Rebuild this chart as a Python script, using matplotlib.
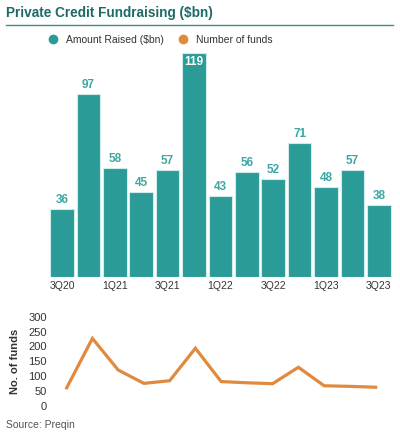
import numpy as np
import matplotlib.pyplot as plt
from matplotlib.lines import Line2D

plt.rcParams['font.family'] = ['Liberation Sans', 'DejaVu Sans']

# Datos
quarters = ["3Q20", "4Q20", "1Q21", "2Q21", "3Q21", "4Q21", "1Q22",
            "2Q22", "3Q22", "4Q22", "1Q23", "2Q23", "3Q23"]
amount_raised = [36, 97, 58, 45, 57, 119, 43, 56, 52, 71, 48, 57, 38]
num_funds = [61, 227, 121, 76, 85, 194, 82, 78, 75, 130, 68, 66, 63]
funds_ticks = [0, 50, 100, 150, 200, 250, 300]

teal = "#2a9b97"
teal_text = "#3ba7a2"
title_col = "#1d6b67"
orange = "#df8a3e"
grey = "#333333"

fig = plt.figure(figsize=(4.0, 4.32), dpi=100)

# Título y línea
fig.text(6 / 400, 1 - 13 / 432, "Private Credit Fundraising ($bn)", fontsize=9.8,
         fontweight="bold", color=title_col, ha="left", va="center")
fig.add_artist(Line2D([6 / 400, 393 / 400], [1 - 25 / 432, 1 - 25 / 432],
                      color="#3a8f8a", lw=1.0))

# Leyenda
h1 = Line2D([], [], marker="o", ls="none", color=teal, markersize=6)
h2 = Line2D([], [], marker="o", ls="none", color=orange, markersize=6)
fig.legend([h1, h2], ["Amount Raised ($bn)", "Number of funds"],
           loc="center left", bbox_to_anchor=(33 / 400, 1 - 40 / 432), ncol=2,
           frameon=False, fontsize=7.5, handletextpad=0.3, columnspacing=0.8,
           labelcolor=grey)

# Barras
x = np.arange(len(quarters))
ax1 = fig.add_axes([48.8 / 400, (432 - 277) / 432, 343.2 / 400, 235.4 / 432])
ax1.bar(x, amount_raised, width=0.9, color=teal, edgecolor="#cfeceb", linewidth=0.8)
ax1.set_xlim(-0.5, len(quarters) - 0.5)
ax1.set_ylim(0, 125)
for xi, v in zip(x, amount_raised):
    if v == max(amount_raised):
        ax1.annotate(str(v), (xi, v), xytext=(0, -9), textcoords="offset pixels",
                     ha="center", va="center", color="white", fontsize=8.5,
                     fontweight="bold")
    else:
        ax1.annotate(str(v), (xi, v), xytext=(0, 3), textcoords="offset pixels",
                     ha="center", va="bottom", color=teal_text, fontsize=8.5,
                     fontweight="bold")
ax1.set_xticks(x[::2])
ax1.set_xticklabels(quarters[::2], fontsize=7.5, color=grey)
ax1.tick_params(axis="x", length=0, pad=3)
ax1.set_yticks([])
for s in ax1.spines.values():
    s.set_visible(False)

# Línea
ax2 = fig.add_axes([53.8 / 400, 26 / 432, 334.7 / 400, 89.3 / 432])
ax2.plot(x, num_funds, color=orange, lw=2.3, solid_joinstyle="miter", clip_on=False)
ax2.set_xlim(-0.5, len(quarters) - 0.5)
ax2.set_ylim(0, 300)
ax2.set_yticks(funds_ticks)
ax2.set_yticklabels([str(t) for t in funds_ticks], fontsize=8, color=grey)
ax2.tick_params(axis="y", length=0, pad=5)
ax2.set_xticks([])
ax2.set_ylabel("No. of funds", fontsize=8, fontweight="bold", color=grey, labelpad=6)
for s in ax2.spines.values():
    s.set_visible(False)

fig.text(6 / 400, 1 - 425 / 432, "Source: Preqin", fontsize=7.5, color="#555555",
         ha="left", va="center")

fig.savefig("out.png", dpi=100)
